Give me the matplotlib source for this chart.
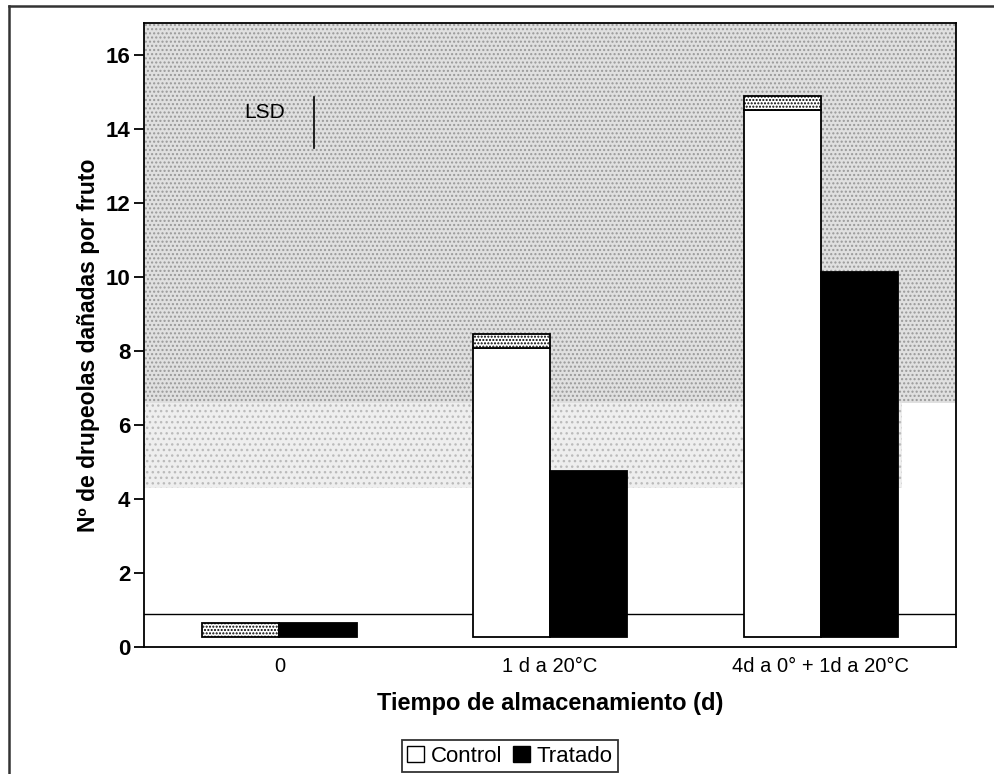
import matplotlib.pyplot as plt
from matplotlib.patches import Patch
from matplotlib.lines import Line2D

plt.rcParams['font.family'] = ['Liberation Sans', 'DejaVu Sans']
plt.rcParams['hatch.linewidth'] = 1.0

# data
groups = ['0', '1 d a 20°C', '4d a 0° + 1d a 20°C']
base = 0.27                       # bars start a little above zero
control_white = [0.27, 8.08, 14.51]
control_top = [0.65, 8.46, 14.89]
treated = [0.65, 4.76, 10.13]
lsd_low, lsd_high = 13.49, 14.86
yticks = [0, 2, 4, 6, 8, 10, 12, 14, 16]

fig = plt.figure(figsize=(9.94, 7.74), dpi=100)
ax = fig.add_axes([0.1449, 0.1641, 0.8169, 0.8062])

# scanned stipple background
ax.fill([-0.5, 2.5, 2.5, -0.5], [6.6, 6.6, 16.86, 16.86], facecolor='#e0e0e0',
        hatch='....', edgecolor='#999999', linewidth=0, zorder=0)
ax.fill([-0.5, 2.3, 2.3, -0.5], [4.3, 4.3, 6.6, 6.6], facecolor='#eeeeee',
        hatch='...', edgecolor='#bbbbbb', linewidth=0, zorder=0)
ax.axhline(0.9, color='black', lw=1.0, zorder=1)

w = 0.285
for i in range(len(groups)):
    x_c = i - w / 2
    x_t = i + w / 2
    if control_white[i] > base:
        ax.bar(x_c, control_white[i] - base, w, bottom=base, color='white',
               edgecolor='black', linewidth=1.3, zorder=2)
    ax.bar(x_c, control_top[i] - control_white[i], w, bottom=control_white[i],
           color='white', hatch='.....', edgecolor='black', linewidth=1.3, zorder=2)
    ax.bar(x_t, treated[i] - base, w, bottom=base, color='black',
           edgecolor='black', linewidth=1.3, zorder=2)

# LSD marker
ax.plot([0.129, 0.129], [lsd_low, lsd_high], color='black', lw=1.2, zorder=3)
ax.text(-0.055, 14.43, 'LSD', ha='center', va='center', fontsize=15, zorder=3)

ax.set_xlim(-0.5, 2.5)
ax.set_ylim(0, 16.86)
ax.set_xticks(range(len(groups)))
ax.set_xticklabels(groups, fontsize=14.5)
ax.set_yticks(yticks)
ax.set_yticklabels([str(t) for t in yticks], fontsize=16, fontweight='bold')
ax.tick_params(axis='x', length=0, pad=7)
ax.tick_params(axis='y', length=7, width=1.3, pad=3)
for s in ax.spines.values():
    s.set_linewidth(1.3)

ax.set_ylabel('Nº de drupeolas dañadas por fruto', fontsize=16.5, fontweight='bold')
ax.yaxis.set_label_coords(-0.054, 0.484)
ax.set_xlabel('Tiempo de almacenamiento (d)', fontsize=17, fontweight='bold', labelpad=12)

handles = [Patch(facecolor='white', edgecolor='black', label='Control'),
           Patch(facecolor='black', edgecolor='black', label='Tratado')]
leg = fig.legend(handles=handles, loc='lower center', bbox_to_anchor=(0.513, 0.002),
                 ncol=2, fontsize=16, frameon=True, fancybox=False,
                 handlelength=0.75, handleheight=0.75, handletextpad=0.3,
                 columnspacing=0.5, borderpad=0.25, borderaxespad=0)
leg.get_frame().set_edgecolor('black')
leg.get_frame().set_linewidth(1.3)

# outer frame of the scanned page
fig.add_artist(Line2D([0.009, 0.009], [0.0, 0.992], transform=fig.transFigure,
                      color='#333333', lw=1.8))
fig.add_artist(Line2D([0.009, 1.0], [0.992, 0.992], transform=fig.transFigure,
                      color='#333333', lw=1.8))

fig.savefig('out.png', dpi=100)
